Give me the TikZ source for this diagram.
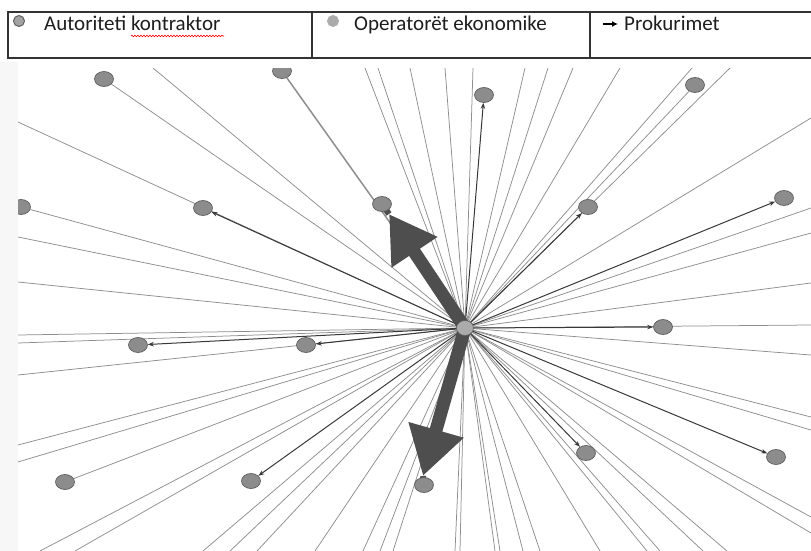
\documentclass[tikz,border=0pt]{standalone}
\usepackage{fontspec}
\setmainfont{Carlito}
\usetikzlibrary{shapes.geometric,arrows.meta,decorations.pathmorphing}
\pgfdeclarelayer{bg}
\pgfsetlayers{bg,main}
\definecolor{raycol}{HTML}{8E8E8E}
\definecolor{arrcol}{HTML}{383838}
\definecolor{bigcol}{HTML}{4E4E4E}
\definecolor{ndfill}{HTML}{8C8C8C}
\definecolor{ndedge}{HTML}{5E5E5E}
\definecolor{hubfill}{HTML}{ABABAB}
\definecolor{boxcol}{HTML}{333333}
\definecolor{txtcol}{HTML}{1E1E1E}
\begin{document}
\begin{tikzpicture}[x=1pt,y=-1pt,
  nd/.style={ellipse,draw=ndedge,fill=ndfill,line width=0.7pt,minimum width=19pt,minimum height=15pt,inner sep=0pt},
  hubnd/.style={ellipse,draw=ndedge,fill=hubfill,line width=0.6pt,minimum width=17pt,minimum height=15pt,inner sep=0pt},
  rayline/.style={draw=raycol,line width=0.75pt},
  thinarrow/.style={draw=arrcol,line width=1pt,-{Stealth[length=6pt,width=4.5pt]}},
  bigarrow/.style={draw=bigcol,line width=13pt},
  neck/.style={draw=bigcol,line width=6pt},
  legtext/.style={anchor=base west,text=txtcol,font=\fontsize{21}{24}\selectfont,inner sep=0pt},
  legbox/.style={draw=boxcol,line width=1.2pt}
]
\useasboundingbox (0,0) rectangle (811,551);
% margin strip
\fill[gray!6] (0,62) rectangle (18,551);
% legend
\draw[legbox] (8,12) rectangle (813,58);
\draw[legbox] (312,12) -- (312,58);
\draw[legbox] (590,12) -- (590,58);
\node[circle,draw=ndedge,fill=ndfill!80,line width=1pt,minimum size=11pt,inner sep=0pt] (lg1) at (19,21) {};
\node[legtext] (lt1) at (44,31) {Autoriteti kontraktor};
\draw[red,line width=0.6pt,decorate,decoration={snake,amplitude=0.8pt,segment length=3pt}] (131,36) -- (224,36);
\node[circle,draw=raycol!70,fill=hubfill,line width=1pt,minimum size=11pt,inner sep=0pt] (lg2) at (333,21) {};
\node[legtext] (lt2) at (354,31) {Operatorët ekonomike};
\coordinate (la1) at (603,24);
\coordinate (la2) at (618,24);
\draw[black,line width=1.3pt,-{Latex[length=6pt,width=6pt]}] (la1) -- (la2);
\node[legtext] (lt3) at (624,31) {Prokurimet};

% plot
\begin{scope}
\clip (18,69) rectangle (811,551);
\node[hubnd] (hub) at (465,328) {};
\node[nd] (a1) at (104,79) {};
\node[nd] (a2) at (282,71) {};
\node[nd] (a3) at (484,95) {};
\node[nd] (a4) at (695,85) {};
\node[nd] (a5) at (21,207) {};
\node[nd] (a6) at (203,208) {};
\node[nd] (a7) at (382,204) {};
\node[nd] (a8) at (588,207) {};
\node[nd] (a9) at (784,198) {};
\node[nd] (a10) at (138,345) {};
\node[nd] (a11) at (306,345) {};
\node[nd] (a12) at (663,327) {};
\node[nd] (a13) at (65,482) {};
\node[nd] (a14) at (251,481) {};
\node[nd] (a15) at (424,485) {};
\node[nd] (a16) at (586,453) {};
\node[nd] (a17) at (776,457) {};
\coordinate (tA) at (389,214);
\coordinate (tB) at (423,476);
\begin{pgfonlayer}{bg}
\clip (18,69) rectangle (811,551);
\foreach \x/\y [count=\i] in {153/68,365/68,378/68,410/68,445/68,473/68,525/68,548/68,573/68,620/68,692/68,730/68,
  18/122,18/237,18/282,18/335,18/343,18/375,18/445,18/462,
  811/118,811/208,811/233,811/283,811/325,811/355,811/417,811/430,811/517,811/533,
  40/551,75/551,203/551,230/551,257/551,315/551,363/551,380/551,393/551,455/551,460/551,495/551,500/551,523/551,540/551,600/551,647/551,660/551,703/551,727/551}{
  \coordinate (e\i) at (\x,\y);
  \draw[rayline] (hub.center) -- (e\i);
}
\foreach \n in {a1,a4,a5,a13}{
  \draw[rayline] (hub.center) -- (\n);
}
\draw[raycol,line width=1.5pt] (hub.center) -- (a2);
\foreach \n in {a3,a6,a8,a9,a10,a11,a12,a14,a16,a17}{
  \draw[thinarrow] (hub.center) -- (\n);
}
\draw[neck] (tA) -- (a7.center);
\draw[neck] (tB) -- (a15.center);
\draw[bigarrow,-{Triangle[length=46pt,width=52pt]}] (hub.center) -- (tA);
\draw[bigarrow,-{Triangle[length=48pt,width=54pt]}] (hub.center) -- (tB);
\end{pgfonlayer}
\end{scope}
\end{tikzpicture}
\end{document}
